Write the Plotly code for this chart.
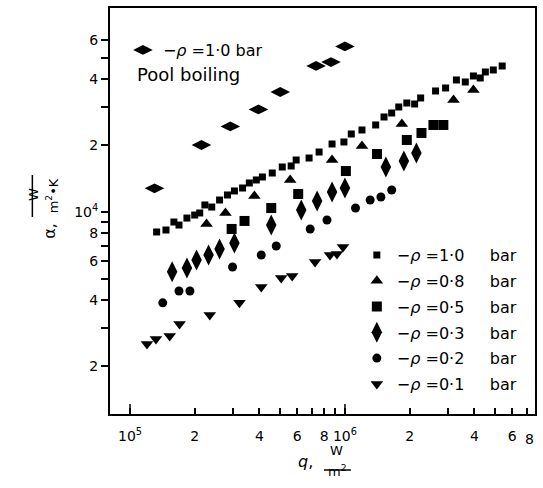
import math
import plotly.graph_objects as go

# ---------------- data ----------------
pool_q = [1.30e5, 2.15e5, 2.93e5, 3.96e5, 5.00e5, 7.34e5, 8.61e5, 1.00e6]
pool_a = [1.28e4, 2.01e4, 2.44e4, 2.91e4, 3.49e4, 4.58e4, 4.77e4, 5.61e4]

p10_q = [1.33e5, 1.47e5, 1.60e5, 1.69e5, 1.84e5, 2.00e5, 2.11e5, 2.23e5, 2.40e5, 2.61e5,
         2.84e5, 3.06e5, 3.34e5, 3.59e5, 3.87e5, 4.13e5, 4.59e5, 5.11e5, 5.62e5, 5.93e5,
         6.81e5, 7.58e5, 8.71e5, 9.89e5, 1.07e6, 1.20e6, 1.39e6, 1.52e6, 1.65e6, 1.78e6,
         1.94e6, 2.11e6, 2.25e6, 2.64e6, 2.94e6, 3.30e6, 3.63e6, 3.96e6, 4.26e6, 4.50e6,
         4.90e6, 5.39e6]
p10_a = [8.12e3, 8.29e3, 9.01e3, 8.73e3, 9.39e3, 9.69e3, 9.90e3, 1.076e4, 1.053e4, 1.133e4,
         1.194e4, 1.245e4, 1.284e4, 1.353e4, 1.396e4, 1.44e4, 1.501e4, 1.598e4, 1.615e4, 1.719e4,
         1.755e4, 1.868e4, 2.031e4, 2.074e4, 2.254e4, 2.35e4, 2.476e4, 2.691e4, 2.805e4, 2.986e4,
         3.113e4, 3.081e4, 3.28e4, 3.528e4, 3.64e4, 3.957e4, 3.875e4, 4.125e4, 4.04e4, 4.30e4,
         4.391e4, 4.577e4]

p08_q = [2.27e5, 2.78e5, 3.79e5, 5.56e5, 8.71e5, 1.20e6, 1.84e6, 3.20e6, 3.96e6]
p08_a = [8.82e3, 9.90e3, 1.181e4, 1.396e4, 1.719e4, 1.989e4, 2.501e4, 3.213e4, 3.565e4]

p05_q = [2.97e5, 3.41e5, 4.54e5, 6.06e5, 1.01e6, 1.41e6, 1.94e6, 2.27e6, 2.58e6, 2.87e6]
p05_a = [8.38e3, 9.11e3, 1.042e4, 1.206e4, 1.532e4, 1.83e4, 2.118e4, 2.278e4, 2.476e4, 2.476e4]

p03_q = [1.57e5, 1.84e5, 2.04e5, 2.32e5, 2.61e5, 3.06e5, 4.54e5, 6.26e5, 7.42e5, 8.71e5,
         1.00e6, 1.55e6, 1.88e6, 2.15e6]
p03_a = [5.36e3, 5.58e3, 6.07e3, 6.39e3, 6.80e3, 7.24e3, 8.73e3, 1.021e4, 1.121e4, 1.232e4,
         1.284e4, 1.598e4, 1.701e4, 1.849e4]

p02_q = [1.42e5, 1.69e5, 1.90e5, 3.00e5, 4.08e5, 4.79e5, 6.89e5, 8.25e5, 1.12e6, 1.31e6,
         1.47e6, 1.65e6]
p02_a = [3.88e3, 4.39e3, 4.39e3, 5.64e3, 6.39e3, 7.02e3, 8.38e3, 9.20e3, 1.042e4, 1.133e4,
         1.169e4, 1.257e4]

p01_q = [1.20e5, 1.32e5, 1.53e5, 1.70e5, 2.35e5, 3.23e5, 4.08e5, 5.05e5, 5.68e5, 7.26e5,
         8.52e5, 9.18e5, 9.79e5]
p01_a = [2.53e3, 2.66e3, 2.75e3, 3.11e3, 3.42e3, 3.88e3, 4.58e3, 5.03e3, 5.14e3, 5.94e3,
         6.39e3, 6.46e3, 6.95e3]

NB = "\u00a0"
GAP = NB * 5
series_labels = ["\u2212<i>\u03c1</i> =1\u00b70" + GAP + "bar",
                 "\u2212<i>\u03c1</i> =0\u00b78" + GAP + "bar",
                 "\u2212<i>\u03c1</i> =0\u00b75" + GAP + "bar",
                 "\u2212<i>\u03c1</i> =0\u00b73" + GAP + "bar",
                 "\u2212<i>\u03c1</i> =0\u00b72" + GAP + "bar",
                 "\u2212<i>\u03c1</i> =0\u00b71" + GAP + "bar"]
pool_label = "\u2212<i>\u03c1</i> =1\u00b70 bar"
pool_caption = "Pool boiling"

x_tickvals = [1e5, 2e5, 4e5, 6e5, 8e5, 1e6, 2e6, 4e6, 6e6]
x_ticktext = ["10<sup>5</sup>", "2", "4", "6", "8", "10<sup>6</sup>", "2", "4", "6"]
x_minor = [3e5, 5e5, 7e5, 9e5, 3e6, 5e6, 7e6]
x_edge_label = "8"
y_tickvals = [2e3, 4e3, 6e3, 8e3, 1e4, 2e4, 4e4, 6e4]
y_ticktext = ["2", "4", "6", "8", "10<sup>4</sup>", "2", "4", "6"]
y_minor = [3e3, 5e3, 7e3, 9e3, 3e4, 5e4]

# ---------------- figure ----------------
FONT = "DejaVu Sans"
fig = go.Figure()

specs = [
    (p10_q, p10_a, "square", 7),
    (p08_q, p08_a, "triangle-up", 11),
    (p05_q, p05_a, "square", 10),
    (p03_q, p03_a, "diamond-tall", 15),
    (p02_q, p02_a, "circle", 9),
    (p01_q, p01_a, "triangle-down", 11),
]
for i, ((qx, ay, sym, sz), lab) in enumerate(zip(specs, series_labels)):
    fig.add_trace(go.Scatter(
        x=qx, y=ay, mode="markers", name=lab, legendgroup="g%d" % i,
        marker=dict(symbol=sym, size=sz, color="black", line=dict(width=0)),
        legend="legend"))

fig.add_trace(go.Scatter(
    x=pool_q, y=pool_a, mode="markers", name=pool_label,
    marker=dict(symbol="diamond-wide", size=14, color="black", line=dict(width=0)),
    legend="legend2"))

W, H = 543, 488
L, R, T, B = 110, 6, 8, 74
pw, ph = W - L - R, H - T - B


def px(xp):
    return (xp - L) / pw


def py(yp):
    return (H - B - yp) / ph


fig.update_layout(
    width=W, height=H,
    margin=dict(l=L, r=R, t=T, b=B, pad=0),
    paper_bgcolor="white", plot_bgcolor="white",
    font=dict(family=FONT, size=14, color="black"),
    showlegend=True,
    legend=dict(x=px(358), y=py(238), xanchor="left", yanchor="top",
                bgcolor="rgba(0,0,0,0)", font=dict(size=16, family=FONT),
                tracegroupgap=2, itemwidth=30),
    legend2=dict(x=px(123), y=py(33), xanchor="left", yanchor="top",
                 bgcolor="rgba(0,0,0,0)", font=dict(size=16, family=FONT),
                 itemwidth=30),
)

fig.update_xaxes(
    type="log", range=[math.log10(8.07e4), math.log10(7.66e6)],
    showgrid=False, zeroline=False,
    showline=True, linecolor="black", linewidth=2, mirror=True,
    tickmode="array", tickvals=x_tickvals, ticktext=x_ticktext,
    ticks="inside", ticklen=6, tickwidth=1.5, tickcolor="black",
    ticklabelstandoff=8,
    tickfont=dict(size=14, family=FONT),
    minor=dict(tickmode="array", tickvals=x_minor, ticks="inside",
               ticklen=6, tickwidth=1.5, tickcolor="black", showgrid=False),
)
fig.update_yaxes(
    type="log", range=[3.086, 4.923],
    showgrid=False, zeroline=False,
    showline=True, linecolor="black", linewidth=2, mirror=True,
    tickmode="array", tickvals=y_tickvals, ticktext=y_ticktext,
    ticks="outside", ticklen=7, tickwidth=1.5, tickcolor="black",
    tickfont=dict(size=14, family=FONT),
    minor=dict(tickmode="array", tickvals=y_minor, ticks="outside",
               ticklen=7, tickwidth=1.5, tickcolor="black", showgrid=False),
)

# longer ticks at the decades on x
for v in (1e5, 1e6):
    fig.add_shape(type="line", xref="x", yref="paper", x0=v, x1=v,
                  y0=0, y1=10 / ph, line=dict(color="black", width=1.5))

# "8" label at 8e6 (just beyond the frame)
fig.add_annotation(x=px(538), xref="paper", y=py(439), yref="paper",
                   text=x_edge_label, showarrow=False, yanchor="middle",
                   font=dict(size=14, family=FONT))

# Pool boiling caption
fig.add_annotation(x=px(135), y=py(75), xref="paper", yref="paper",
                   text=pool_caption, showarrow=False, xanchor="left",
                   yanchor="middle", font=dict(size=18, family=FONT))

# x-axis title  q, W/m2
fig.add_annotation(x=px(306), y=py(473), xref="paper", yref="paper",
                   text="<i>q</i>,", showarrow=False, font=dict(size=16, family=FONT))
fig.add_annotation(x=px(338), y=py(460), xref="paper", yref="paper",
                   text="W", showarrow=False, font=dict(size=13, family=FONT))
fig.add_annotation(x=px(338), y=py(481), xref="paper", yref="paper",
                   text="m<sup>2</sup>", showarrow=False, font=dict(size=13, family=FONT))
fig.add_shape(type="line", xref="paper", yref="paper",
              x0=px(325), x1=px(352), y0=py(470), y1=py(470),
              line=dict(color="black", width=1.5))

# y-axis title  alpha, W/(m2 K)
fig.add_annotation(x=px(23), y=py(194), xref="paper", yref="paper",
                   text="W", textangle=-90, showarrow=False,
                   font=dict(size=13, family=FONT))
fig.add_annotation(x=px(42), y=py(196), xref="paper", yref="paper",
                   text="m<sup>2</sup>\u2022K", textangle=-90, showarrow=False,
                   font=dict(size=13, family=FONT))
fig.add_shape(type="line", xref="paper", yref="paper",
              x0=px(32), x1=px(32), y0=py(175), y1=py(217),
              line=dict(color="black", width=1.5))
fig.add_annotation(x=px(38), y=py(231), xref="paper", yref="paper",
                   text="\u03b1,", textangle=-90, showarrow=False,
                   font=dict(size=16, family=FONT))

fig.write_html("out.html")
